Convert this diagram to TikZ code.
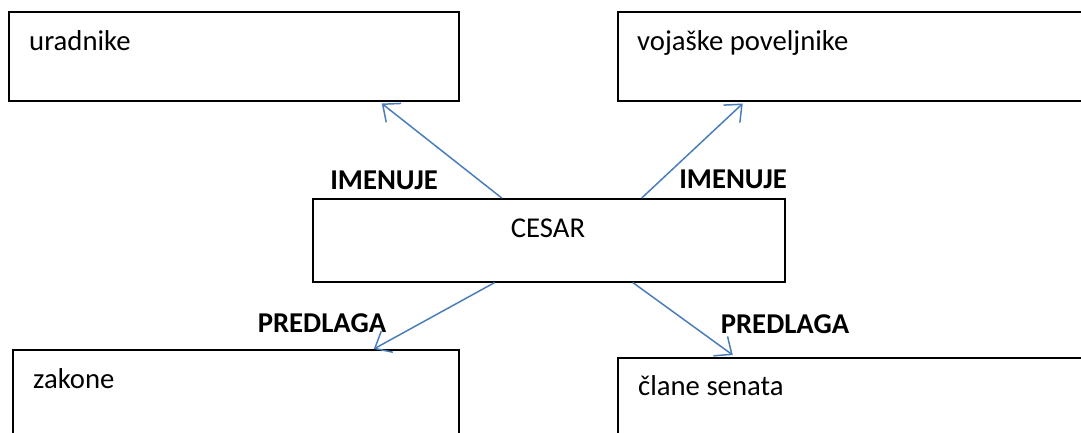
\documentclass[tikz,border=0pt]{standalone}
\usepackage{fontspec}
\setmainfont{Carlito}
\usepackage{tikz}
\usetikzlibrary{arrows.meta}

\definecolor{arrowblue}{RGB}{74,126,187}

\begin{document}
\begin{tikzpicture}[x=1pt,y=-1pt]
	\useasboundingbox (0,0) rectangle (1081,432);
	\clip (0,0) rectangle (1081,432);

	\begin{scope}[every node/.style={draw=black,line width=1.5pt,rectangle,inner sep=0pt,anchor=north west}]
		\node[minimum width=450pt,minimum height=89pt] (urad) at (8,11) {};
		\node[minimum width=470pt,minimum height=89pt] (vojs) at (617,11) {};
		\node[minimum width=472pt,minimum height=83pt] (cesar) at (312,198) {};
		\node[minimum width=446pt,minimum height=100pt] (zak) at (12,349) {};
		\node[minimum width=470pt,minimum height=100pt] (sen) at (617,357) {};
	\end{scope}

	\begin{scope}[every node/.style={inner sep=0pt,anchor=base west,font=\fontsize{28.7}{34}\selectfont}]
		\node (t-urad) at (29,50) {uradnike};
		\node (t-vojs) at (637,50) {vojaške poveljnike};
		\node[anchor=base] (t-cesar) at (548,237) {CESAR};
		\node (t-zak) at (33,388) {zakone};
		\node (t-sen) at (638,395) {člane senata};
	\end{scope}

	\begin{scope}[every node/.style={inner sep=0pt,anchor=base,font=\fontsize{28.7}{34}\selectfont\bfseries}]
		\node (imen-l) at (384,189) {IMENUJE};
		\node (imen-r) at (733,188) {IMENUJE};
		\node (pred-l) at (322,332) {PREDLAGA};
		\node (pred-r) at (785,333) {PREDLAGA};
	\end{scope}

	\begin{scope}[>={Straight Barb[length=14pt,width=24pt]},
				  every edge/.style={draw=arrowblue,line width=1.5pt}]
		\path [->] ([xshift=-47pt]cesar.north) edge ([xshift=148pt,yshift=-2pt]urad.south);
		\path [->] ([xshift=93pt]cesar.north) edge ([xshift=-110pt,yshift=-2pt]vojs.north |- urad.south);
		\path [->] ([xshift=-54pt]cesar.south) edge ([xshift=138pt]zak.north);
		\path [->] ([xshift=84pt]cesar.south) edge ([xshift=-120pt,yshift=2pt]sen.north);
	\end{scope}
\end{tikzpicture}
\end{document}
